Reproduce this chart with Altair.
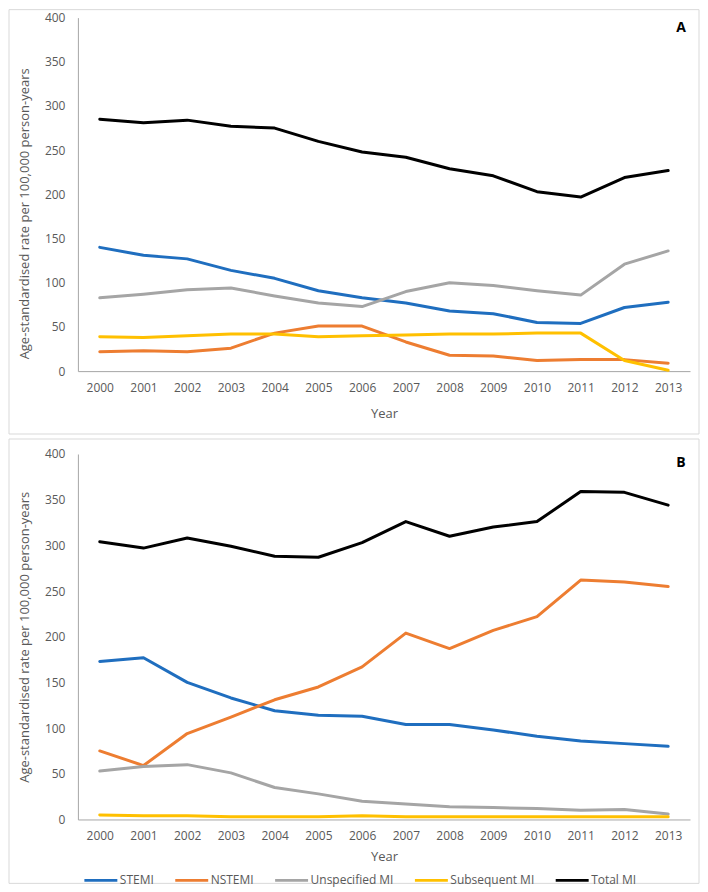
import altair as alt
import pandas as pd

years = [str(y) for y in range(2000, 2014)]
series = ["STEMI", "NSTEMI", "Unspecified MI", "Subsequent MI", "Total MI"]
colors = ["#1F6EBF", "#ED7D31", "#A5A5A5", "#FFC000", "#000000"]

# Panel A
a_stemi = [140, 131, 127, 114, 105, 91, 83, 77, 68, 65, 55, 54, 72, 78]
a_nstemi = [22, 23, 22, 26, 43, 51, 51, 33, 18, 17, 12, 13, 13, 9]
a_unspec = [83, 87, 92, 94, 85, 77, 73, 90, 100, 97, 91, 86, 121, 136]
a_subseq = [39, 38, 40, 42, 42, 39, 40, 41, 42, 42, 43, 43, 12, 1]
a_total = [285, 281, 284, 277, 275, 260, 248, 242, 229, 221, 203, 197, 219, 227]

# Panel B
b_stemi = [173, 177, 150, 133, 119, 114, 113, 104, 104, 98, 91, 86, 83, 80]
b_nstemi = [75, 59, 94, 112, 131, 145, 167, 204, 187, 207, 222, 262, 260, 255]
b_unspec = [53, 58, 60, 51, 35, 28, 20, 17, 14, 13, 12, 10, 11, 6]
b_subseq = [5, 4, 4, 3, 3, 3, 4, 3, 3, 3, 3, 3, 3, 3]
b_total = [304, 297, 308, 299, 288, 287, 303, 326, 310, 320, 326, 359, 358, 344]


def long(vals):
    rows = []
    for s, v in zip(series, vals):
        for y, x in zip(years, v):
            rows.append({"year": y, "series": s, "value": x})
    return pd.DataFrame(rows)


dfA = long([a_stemi, a_nstemi, a_unspec, a_subseq, a_total])
dfB = long([b_stemi, b_nstemi, b_unspec, b_subseq, b_total])

FONT = "Open Sans"
GREY = "#595959"
W = 613


def panel(df, h, letter, ytitle_y, xtitle_y, top, bottom, letter_y, legend):
    lines = alt.Chart(df).mark_line(strokeWidth=3, strokeJoin="round", strokeCap="round").encode(
        x=alt.X("year:O", sort=years,
                axis=alt.Axis(title="Year", labelAngle=0, ticks=False, domainColor="#A6A6A6",
                              labelPadding=11, labelColor=GREY, labelFontSize=12, labelFont=FONT,
                              titleFont=FONT, titleFontSize=13, titleColor=GREY, titleFontWeight="normal",
                              titleBaseline="middle", titleY=xtitle_y)),
        y=alt.Y("value:Q", scale=alt.Scale(domain=[0, 400], nice=False),
                axis=alt.Axis(title="Age-standardised rate per 100,000 person-years",
                              values=list(range(0, 401, 50)), grid=False, ticks=False,
                              domainColor="#A6A6A6", labelPadding=13, labelColor=GREY,
                              labelFontSize=12, labelFont=FONT, titleFont=FONT, titleFontSize=13,
                              titleColor=GREY, titleFontWeight="normal", titleBaseline="middle",
                              titleX=-53, titleY=ytitle_y)),
        color=alt.Color("series:N", sort=series,
                        scale=alt.Scale(domain=series, range=colors),
                        legend=legend),
        detail="series:N",
    )
    one = pd.DataFrame({"k": [letter]})
    border = alt.Chart(one).mark_rect(fill=None, stroke="#D9D9D9", strokeWidth=1).encode(
        x=alt.value(-69), x2=alt.value(W + 9), y=alt.value(top), y2=alt.value(bottom))
    lab = alt.Chart(one).mark_text(fontWeight="bold", fontSize=14, font=FONT, color="#000000").encode(
        text="k:N", x=alt.value(604), y=alt.value(letter_y))
    return alt.layer(border, lines, lab).properties(width=W, height=h)


legB = alt.Legend(title=None, orient="none", direction="horizontal",
                  legendX=5, legendY=409, symbolType="stroke",
                  symbolSize=1089, symbolStrokeWidth=3, labelOffset=1,
                  columnPadding=14, labelFont=FONT, labelFontSize=12,
                  labelColor=GREY)

pA = panel(dfA, 354, "A", 196, 42, -8, 417, 10, None)
pB = panel(dfB, 366, "B", 183, 37, -15, 430, 9, legB)

chart = (alt.vconcat(pA, pB, spacing=3)
         .resolve_legend(color="independent")
         .properties(padding=0)
         .configure_view(stroke=None))

chart.save("out.html", embed_options={"renderer": "svg", "actions": False})
